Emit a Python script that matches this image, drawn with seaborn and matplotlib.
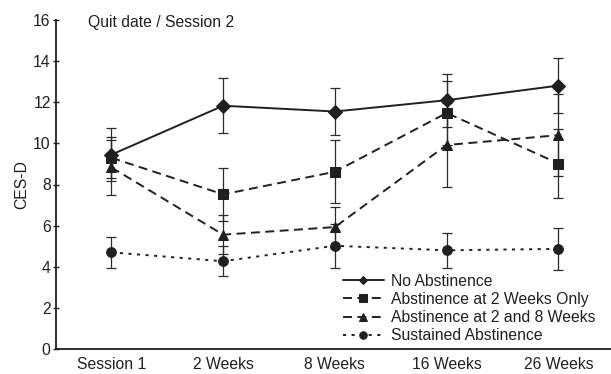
import matplotlib
matplotlib.use("Agg")
import matplotlib.pyplot as plt
import numpy as np
import pandas as pd
import seaborn as sns

# values
sessions = ["Session 1", "2 Weeks", "8 Weeks", "16 Weeks", "26 Weeks"]
groups = ["No Abstinence", "Abstinence at 2 Weeks Only",
          "Abstinence at 2 and 8 Weeks", "Sustained Abstinence"]

no_abst = [9.45, 11.83, 11.55, 12.1, 12.81]
no_abst_err = [1.3, 1.33, 1.13, 1.28, 1.35]

abst_2wk = [9.3, 7.52, 8.62, 11.48, 9.02]
abst_2wk_err = [1.0, 1.28, 1.52, 1.57, 1.7]

abst_2_8wk = [8.83, 5.56, 5.93, 9.92, 10.4]
abst_2_8wk_err = [1.35, 0.95, 1.0, 2.04, 2.0]

sustained = [4.7, 4.27, 5.02, 4.8, 4.87]
sustained_err = [0.76, 0.74, 1.08, 0.86, 1.02]

values = [no_abst, abst_2wk, abst_2_8wk, sustained]
errors = [no_abst_err, abst_2wk_err, abst_2_8wk_err, sustained_err]

rows = []
for g, vals, errs in zip(groups, values, errors):
    for i, (v, e) in enumerate(zip(vals, errs)):
        rows.append({"group": g, "x": i, "session": sessions[i], "ces_d": v, "err": e})
df = pd.DataFrame(rows)

sns.set_theme(style="ticks")
plt.rcParams["font.family"] = ["Liberation Sans", "DejaVu Sans"]

ink = "#231f20"
fs = 11.3
markers = {groups[0]: "D", groups[1]: "s", groups[2]: "^", groups[3]: "o"}
marker_sizes = {groups[0]: 5.2, groups[1]: 6.8, groups[2]: 7.2, groups[3]: 7.2}
dashes = {groups[0]: "", groups[1]: (4.6, 2.8), groups[2]: (4.6, 2.8), groups[3]: (1.6, 2.8)}

fig = plt.figure(figsize=(6.11, 3.74), dpi=100)
ax = fig.add_axes([55.5 / 611, 25 / 374, (611 - 55.5) / 611, 329 / 374])

# error bars first so the lines sit on top
for g in groups:
    sub = df[df["group"] == g]
    ax.errorbar(sub["x"], sub["ces_d"], yerr=sub["err"], fmt="none",
                ecolor="#2a2a2a", elinewidth=0.9, capsize=3.5, capthick=0.9, zorder=2)

sns.lineplot(data=df, x="x", y="ces_d", style="group", hue="group",
             palette=[ink] * 4, markers=markers, dashes=dashes,
             markeredgecolor=ink, linewidth=1.4, markersize=7, ax=ax, zorder=3)

# fix individual marker sizes
for line in ax.get_lines():
    lab = line.get_label()
    if lab in marker_sizes:
        line.set_markersize(marker_sizes[lab])

ax.set_xlim(-0.5, 4.47)
ax.set_ylim(0, 16)
ax.set_xticks(range(len(sessions)))
ax.set_xticklabels(sessions, fontsize=fs)
ax.set_yticks(np.arange(0, 17, 2))
ax.tick_params(axis="y", direction="inout", length=4, width=1, labelsize=fs, pad=1.5,
               color=ink, labelcolor=ink)
ax.tick_params(axis="x", length=0, labelsize=fs, pad=6, labelcolor=ink)
ax.set_xlabel("")
ax.set_ylabel("CES-D", fontsize=fs, labelpad=3, color=ink)
for s in ["top", "right"]:
    ax.spines[s].set_visible(False)
for s in ["left", "bottom"]:
    ax.spines[s].set_linewidth(1.3)
    ax.spines[s].set_color(ink)

fig.text(88 / 611, 1 - 23 / 374, "Quit date / Session 2", fontsize=fs,
         ha="left", va="center", color=ink)

handles, labels = ax.get_legend_handles_labels()
for h in handles:
    lab = h.get_label()
    if lab in marker_sizes:
        h.set_markersize(marker_sizes[lab] * 0.75)
leg = ax.legend(handles, labels, loc="lower right", bbox_to_anchor=(603 / 611, 1 - 351 / 374),
                bbox_transform=fig.transFigure, frameon=False, fontsize=fs,
                handlelength=2.6, handletextpad=0.45, labelspacing=0.2, borderpad=0)
for t in leg.get_texts():
    t.set_color(ink)

fig.savefig("out.png", dpi=100)
